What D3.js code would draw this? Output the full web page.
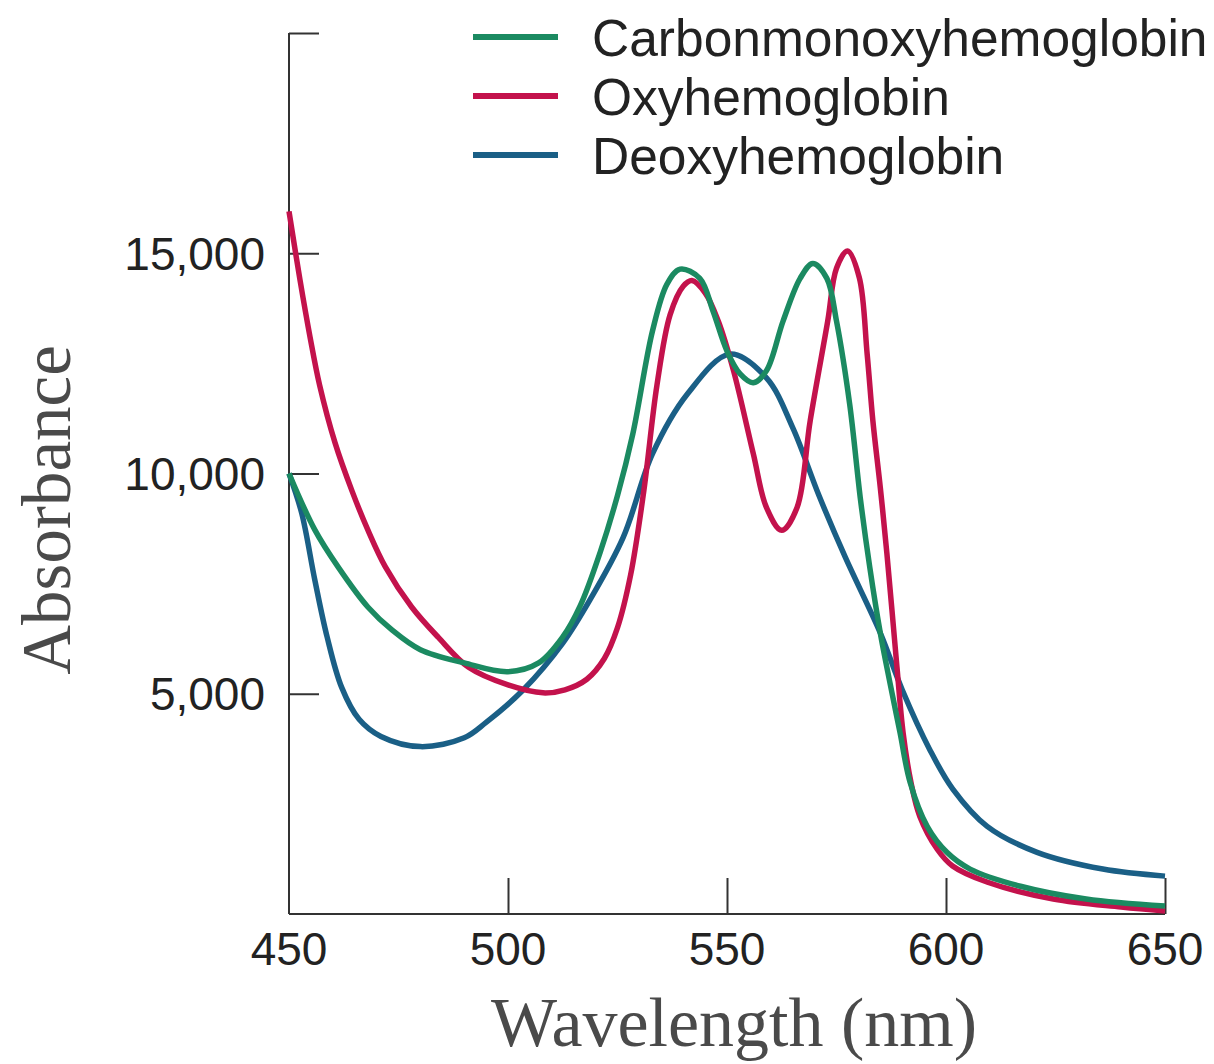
<!DOCTYPE html>
<html>
<head>
<meta charset="utf-8">
<script src="https://cdn.jsdelivr.net/npm/d3@7/dist/d3.min.js"></script>
<style>
  html, body { margin: 0; padding: 0; background: #fff; }
  svg { display: block; }
</style>
</head>
<body>
<svg id="chart" width="1214" height="1064"></svg>
<script>
// Absorption spectra of haemoglobin species: [wavelength (nm), absorbance]
const carbonmonoxy = [
  [450, 10000], [455.9, 8720], [461.2, 7880], [468, 6970], [473.5, 6450],
  [480, 6000], [490, 5700], [500, 5500], [507, 5700], [512.5, 6290],
  [516.5, 7000], [521, 8200], [525, 9500], [528.5, 10900], [533, 13240],
  [536.3, 14300], [539.3, 14640], [543.8, 14430], [546.8, 13690], [550, 12780],
  [553, 12260], [556, 12060], [559, 12330], [562.8, 13460], [566.7, 14430],
  [569.6, 14770], [572.8, 14430], [575, 13460], [578, 11580], [580.5, 9390],
  [582.6, 7870], [585, 6380], [587.2, 5250], [589.5, 4120], [591.8, 2990],
  [595.7, 1990], [600.2, 1400], [605.5, 1020], [617, 630], [632, 340], [650, 180]
];
const oxy = [
  [450, 15950], [452.5, 14400], [454.8, 13100], [457, 12000], [460.5, 10700],
  [464.4, 9600], [468, 8720], [472, 7880], [478, 6970], [484, 6290], [491, 5600],
  [500, 5200], [508, 5020], [513, 5090], [518, 5330], [522, 5800], [525, 6500],
  [528, 7700], [531, 9600], [534, 12000], [537, 13600], [540, 14250], [542, 14380],
  [545, 14100], [548, 13460], [551.5, 12330], [556, 10450], [559, 9230],
  [562.5, 8710], [566, 9230], [569, 11200], [573, 13460], [575, 14660],
  [577.5, 15050], [580.2, 14450], [582, 12710], [583.3, 11200], [585, 9680],
  [586.5, 8190], [588.8, 5610], [590.2, 4120], [592, 2990], [594, 2220],
  [598, 1470], [601.5, 1090], [609.5, 720], [624.5, 340], [640, 160], [650, 70]
];
const deoxy = [
  [450, 10000], [452.9, 9100], [455.9, 7580], [458.7, 6290], [462, 5150],
  [466, 4420], [471, 4030], [480, 3800], [490, 4000], [495, 4350], [503.5, 5090],
  [512.5, 6150], [518.7, 7130], [526.3, 8550], [533, 10450], [541, 11810],
  [550.7, 12710], [559, 12170], [565, 11040], [571, 9500], [577, 8100],
  [585, 6380], [590, 5090], [596.3, 3730], [601.6, 2830], [609.4, 1990],
  [620.8, 1400], [635.8, 1020], [650, 860]
];

const seriesNames = ["Carbonmonoxyhemoglobin", "Oxyhemoglobin", "Deoxyhemoglobin"];
const seriesData = [carbonmonoxy, oxy, deoxy];
const seriesColors = ["#1b8a61", "#c3124c", "#1a5f86"];

const xTicks = [450, 500, 550, 600, 650];
const yTicks = [5000, 10000, 15000, 20000];
const yLabelled = [5000, 10000, 15000];

const svg = d3.select("#chart");

const x = d3.scaleLinear().domain([450, 650]).range([289, 1165]);
const y = d3.scaleLinear().domain([0, 20000]).range([914, 33]);

// Axes: plain frame lines with inward ticks
const axisColor = "#333";
svg.append("line")
  .attr("x1", x(450)).attr("x2", x(450))
  .attr("y1", y(20000)).attr("y2", y(0))
  .attr("stroke", axisColor).attr("stroke-width", 2);
svg.append("line")
  .attr("x1", x(450)).attr("x2", x(650))
  .attr("y1", y(0)).attr("y2", y(0))
  .attr("stroke", axisColor).attr("stroke-width", 2);

const yAxis = d3.axisRight(y).tickValues(yTicks).tickSize(30).tickFormat("");
svg.append("g").attr("transform", `translate(${x(450)},0)`).call(yAxis)
  .call(g => g.select(".domain").remove())
  .call(g => g.selectAll("line").attr("stroke", axisColor).attr("stroke-width", 2));

const xAxis = d3.axisTop(x).tickValues(xTicks.filter(t => t !== 450)).tickSize(36).tickFormat("");
svg.append("g").attr("transform", `translate(0,${y(0)})`).call(xAxis)
  .call(g => g.select(".domain").remove())
  .call(g => g.selectAll("line").attr("stroke", axisColor).attr("stroke-width", 2));

// Tick labels
const fmt = d3.format(",");
svg.append("g").selectAll("text").data(yLabelled).join("text")
  .attr("x", 265).attr("y", d => y(d)).attr("dy", "0.36em")
  .attr("text-anchor", "end")
  .attr("font-family", "Liberation Sans, Arial, sans-serif")
  .attr("font-size", 46).attr("fill", "#222")
  .text(d => fmt(d));

svg.append("g").selectAll("text").data(xTicks).join("text")
  .attr("x", d => x(d)).attr("y", 965)
  .attr("text-anchor", "middle")
  .attr("font-family", "Liberation Sans, Arial, sans-serif")
  .attr("font-size", 46).attr("fill", "#222")
  .text(d => d);

// Axis titles
svg.append("text")
  .attr("x", 734).attr("y", 1046)
  .attr("text-anchor", "middle")
  .attr("font-family", "Liberation Serif, Times New Roman, serif")
  .attr("font-size", 70).attr("fill", "#4a4a4a")
  .text("Wavelength (nm)");

svg.append("text")
  .attr("transform", "translate(70,510) rotate(-90)")
  .attr("text-anchor", "middle")
  .attr("font-family", "Liberation Serif, Times New Roman, serif")
  .attr("font-size", 69).attr("fill", "#4a4a4a")
  .text("Absorbance");

// Spectra
const line = d3.line()
  .x(d => x(d[0]))
  .y(d => y(d[1]))
  .curve(d3.curveCatmullRom.alpha(0.5));

const drawOrder = [2, 1, 0];
svg.append("g").selectAll("path").data(drawOrder).join("path")
  .attr("d", i => line(seriesData[i]))
  .attr("fill", "none")
  .attr("stroke", i => seriesColors[i])
  .attr("stroke-width", 5.5)
  .attr("stroke-linejoin", "round")
  .attr("stroke-linecap", "butt");

// Legend
const legend = svg.append("g");
const legendRows = seriesNames.map((name, i) => ({ name, color: seriesColors[i], ly: 37 + i * 59 }));
legend.selectAll("line").data(legendRows).join("line")
  .attr("x1", 473).attr("x2", 558)
  .attr("y1", d => d.ly).attr("y2", d => d.ly)
  .attr("stroke", d => d.color).attr("stroke-width", 6);
legend.selectAll("text").data(legendRows).join("text")
  .attr("x", 592).attr("y", d => d.ly).attr("dy", "0.36em")
  .attr("font-family", "Liberation Sans, Arial, sans-serif")
  .attr("font-size", 51.5).attr("fill", "#222")
  .text(d => d.name);
</script>
</body>
</html>
